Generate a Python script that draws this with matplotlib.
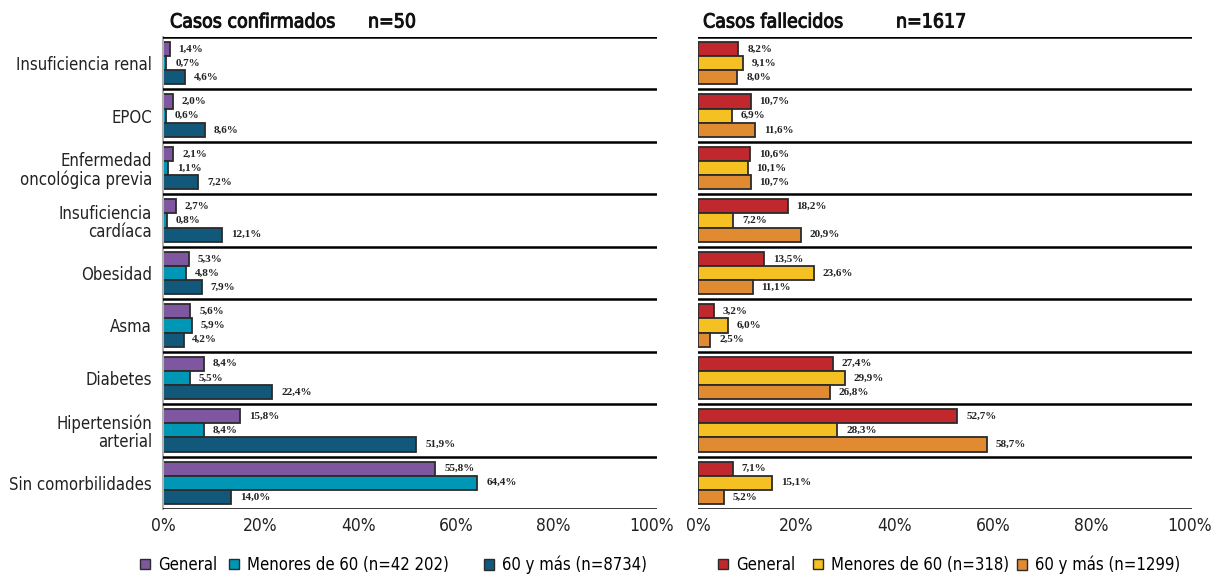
import numpy as np
import matplotlib
matplotlib.use("Agg")
import matplotlib.pyplot as plt
import matplotlib.patheffects as pe
from matplotlib.patches import Patch

plt.rcParams['font.family'] = ['DejaVu Sans']
plt.rcParams['font.stretch'] = 'condensed'

# ======== datos ========
categorias = ["Insuficiencia renal", "EPOC", "Enfermedad\noncológica previa",
              "Insuficiencia\ncardíaca", "Obesidad", "Asma", "Diabetes",
              "Hipertensión\narterial", "Sin comorbilidades"]

conf_general = [1.4, 2.0, 2.1, 2.7, 5.3, 5.6, 8.4, 15.8, 55.8]
conf_menores = [0.7, 0.6, 1.1, 0.8, 4.8, 5.9, 5.5, 8.4, 64.4]
conf_mayores = [4.6, 8.6, 7.2, 12.1, 7.9, 4.2, 22.4, 51.9, 14.0]

fall_general = [8.2, 10.7, 10.6, 18.2, 13.5, 3.2, 27.4, 52.7, 7.1]
fall_menores = [9.1, 6.9, 10.1, 7.2, 23.6, 6.0, 29.9, 28.3, 15.1]
fall_mayores = [8.0, 11.6, 10.7, 20.9, 11.1, 2.5, 26.8, 58.7, 5.2]

leyenda_conf = ["General", "Menores de 60 (n=42 202)", "60 y más (n=8734)"]
leyenda_fall = ["General", "Menores de 60 (n=318)", "60 y más (n=1299)"]

col_conf = ["#7E57A0", "#0096B6", "#11587A"]
col_fall = ["#C1282E", "#F5C022", "#E08A32"]

W, H = 1216, 575
fig = plt.figure(figsize=(W / 100, H / 100), dpi=100)

bottom = 1 - 509 / H
height = (509 - 37) / H
ax1 = fig.add_axes([163 / W, bottom, (657 - 163) / W, height])
ax2 = fig.add_axes([698 / W, bottom, (1192 - 698) / W, height])

n = len(categorias)
y = np.arange(n)
bh = 0.27


def panel(ax, series, colores, xmax, etiquetas_y, left_spine):
    for k, (vals, c) in enumerate(zip(series, colores)):
        pos = y + (k - 1) * bh
        ax.barh(pos, vals, height=bh, color=c, edgecolor="#2b2b2b", linewidth=1.3)
        for p, v in zip(pos, vals):
            ax.text(v + 1.8, p, f"{v:.1f}%".replace(".", ","), va="center", ha="left",
                    fontsize=8, fontweight="bold", family="Liberation Serif",
                    fontstretch="normal", color="#222222")
    for b in np.arange(-0.5, n, 1.0):
        ax.axhline(b, color="black", lw=1.8, zorder=3)
    ax.set_ylim(n - 0.5, -0.5)
    ax.set_xlim(0, xmax)
    ax.set_xticks([0, 20, 40, 60, 80, 100])
    ax.set_xticklabels(["0%", "20%", "40%", "60%", "80%", "100%"], fontsize=12.5, color="#222222")
    ax.tick_params(axis="x", length=0, pad=6)
    ax.set_yticks(y)
    if etiquetas_y:
        ax.set_yticklabels(categorias, fontsize=12, color="#222222", linespacing=1.05)
    else:
        ax.set_yticklabels([])
    ax.tick_params(axis="y", length=0, pad=8)
    for s in ["top", "right", "bottom"]:
        ax.spines[s].set_visible(False)
    if left_spine:
        ax.spines["left"].set_color("#b0b0b0")
        ax.spines["left"].set_linewidth(1.5)
    else:
        ax.spines["left"].set_visible(False)


panel(ax1, [conf_general, conf_menores, conf_mayores], col_conf, 101.2, True, True)
panel(ax2, [fall_general, fall_menores, fall_mayores], col_fall, 100.4, False, False)

# títulos (trazo fino para simular seminegrita)
tit = dict(fontsize=14, va="center", color="#111111",
           path_effects=[pe.withStroke(linewidth=0.7, foreground="#111111")])
fig.text(170 / W, 1 - 22 / H, "Casos confirmados", **tit)
fig.text(368 / W, 1 - 22 / H, "n=50", **tit)
fig.text(703 / W, 1 - 22 / H, "Casos fallecidos", **tit)
fig.text(896 / W, 1 - 22 / H, "n=1617", **tit)

# leyendas (una entrada por leyenda para controlar la posición)
x_leg = [[140, 229, 484], [718, 813, 1017]]
for cols, labs, xs in [(col_conf, leyenda_conf, x_leg[0]), (col_fall, leyenda_fall, x_leg[1])]:
    for c, l, x0 in zip(cols, labs, xs):
        h = [Patch(facecolor=c, edgecolor="#2b2b2b", linewidth=1.0, label=l)]
        fig.legend(handles=h, loc="center left", bbox_to_anchor=(x0 / W, 1 - 565 / H),
                   frameon=False, fontsize=12, handlelength=0.6, handleheight=0.6,
                   handletextpad=0.5, borderaxespad=0, borderpad=0)

plt.savefig("out.png", dpi=100)
